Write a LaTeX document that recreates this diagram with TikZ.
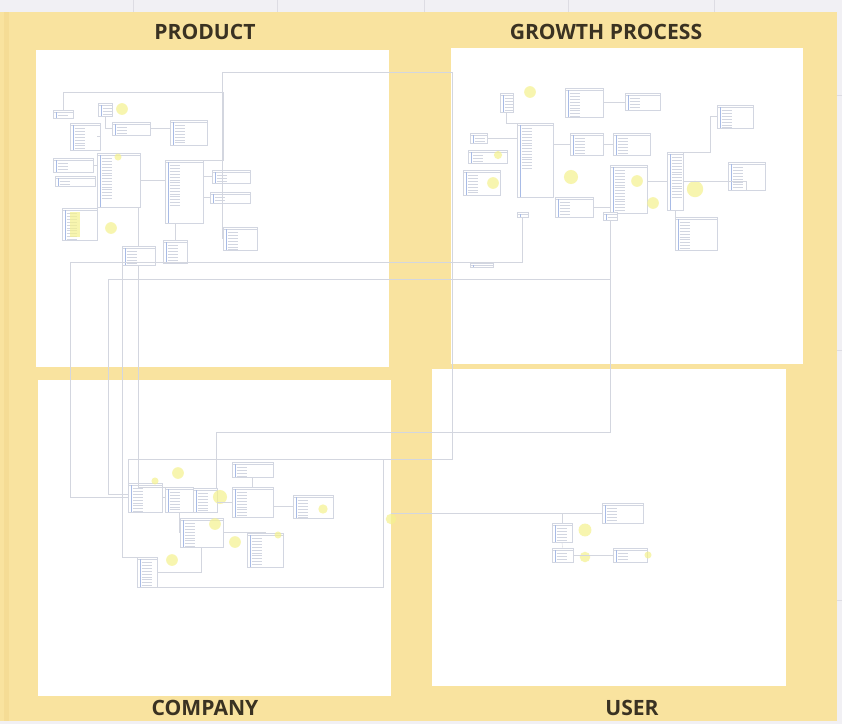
\documentclass[tikz,border=0pt]{standalone}
\usepackage{fontspec}
\setmainfont{Open Sans}
\usetikzlibrary{fit}

\definecolor{sheet}{HTML}{F1F0F4}
\definecolor{gridln}{HTML}{DDDCE3}
\definecolor{board}{HTML}{F9E39F}
\definecolor{boardedge}{HTML}{F5DC95}
\definecolor{title}{HTML}{3A3222}
\definecolor{tblline}{HTML}{D2D6E1}
\definecolor{rowblue}{HTML}{A8BBE6}
\definecolor{mark}{HTML}{F5F28E}
\definecolor{wireln}{HTML}{D3D6DF}

\tikzset{
  panel/.style={fill=white, draw=none},
  heading/.style={font=\fontsize{18}{20}\selectfont\bfseries, text=title},
  tbl/.style={draw=tblline, line width=0.3pt, fill=white, inner sep=0pt,
    path picture={
      \draw[tblline, line width=0.3pt]
        ([yshift=-2pt]path picture bounding box.north west) -- ([yshift=-2pt]path picture bounding box.north east);
      \draw[rowblue, line width=0.35pt]
        ([xshift=2.5pt,yshift=-2pt]path picture bounding box.north west) -- ([xshift=2.5pt]path picture bounding box.south west);
      \foreach \k in {2,...,16}
        \draw[tblline, line width=0.25pt]
          ([xshift=4pt,yshift=-\k*2.4pt]path picture bounding box.north west) -- ++(9pt,0);
    }},
  hl/.style={circle, fill=mark, opacity=0.7, inner sep=0pt, minimum size=#1},
  hl/.default=10pt,
  hlbar/.style={fill=mark, opacity=0.7, inner sep=0pt},
  wire/.style={draw=wireln, line width=0.3pt},
}

\begin{document}
\begin{tikzpicture}[x=0.03cm, y=-0.03cm]
  \useasboundingbox (0,0) rectangle (842,724);

  % sheet behind the board
  \fill[sheet] (0,0) rectangle (842,724);
  \foreach \gx in {133,277,424,568,714}
    \draw[gridln, line width=0.4pt] (\gx,0) -- (\gx,12);
  \foreach \gy in {95,350,600}
    \draw[gridln, line width=0.4pt] (837,\gy) -- (842,\gy);

  % board and the four areas
  \fill[board] (0,12) rectangle (837,721);
  \fill[boardedge] (4,12) rectangle (9,721);
  \fill[panel] (36,50) rectangle (389,367);
  \fill[panel] (451,48) rectangle (803,364);
  \fill[panel] (38,380) rectangle (391,696);
  \fill[panel] (432,369) rectangle (786,686);

  \node[heading] (hProduct) at (205,32)  {PRODUCT};
  \node[heading] (hGrowth)  at (606,32)  {GROWTH PROCESS};
  \node[heading] (hCompany) at (205,708) {COMPANY};
  \node[heading] (hUser)    at (632,708) {USER};

  % product tables
  \node[tbl, fit={(53,110) (73,118)}]   (pr1) {};
  \node[tbl, fit={(98,103) (112,116)}]  (pr2) {};
  \node[tbl, fit={(70,123) (100,150)}]  (pr3) {};
  \node[tbl, fit={(112,122) (150,135)}] (pr4) {};
  \node[tbl, fit={(170,120) (207,145)}] (pr5) {};
  \node[tbl, fit={(53,158) (93,172)}]   (pr6) {};
  \node[tbl, fit={(55,176) (95,186)}]   (pr7) {};
  \node[tbl, fit={(97,153) (140,207)}]  (pr8) {};
  \node[tbl, fit={(165,160) (203,223)}] (pr9) {};
  \node[tbl, fit={(212,170) (250,183)}] (pr10) {};
  \node[tbl, fit={(210,192) (250,203)}] (pr11) {};
  \node[tbl, fit={(62,208) (97,240)}]   (pr12) {};
  \node[tbl, fit={(223,227) (257,250)}] (pr13) {};
  \node[tbl, fit={(122,246) (155,265)}] (pr14) {};
  \node[tbl, fit={(163,240) (187,263)}] (pr15) {};
  \node[hl] (prm1) at (122,109) {};
  \node[hl=6pt] (prm2) at (118,157) {};
  \node[hlbar, fit={(70,212) (80,237)}] (prm3) {};
  \node[hl] (prm4) at (111,228) {};

  % growth process tables
  \node[tbl, fit={(500,93) (513,112)}]  (gp1) {};
  \node[tbl, fit={(565,88) (603,117)}]  (gp2) {};
  \node[tbl, fit={(625,93) (660,110)}]  (gp3) {};
  \node[tbl, fit={(717,105) (753,128)}] (gp4) {};
  \node[tbl, fit={(470,133) (487,143)}] (gp5) {};
  \node[tbl, fit={(468,150) (507,163)}] (gp6) {};
  \node[tbl, fit={(463,170) (500,195)}] (gp7) {};
  \node[tbl, fit={(517,123) (553,197)}] (gp8) {};
  \node[tbl, fit={(570,133) (603,155)}] (gp9) {};
  \node[tbl, fit={(613,133) (650,155)}] (gp10) {};
  \node[tbl, fit={(610,165) (647,213)}] (gp11) {};
  \node[tbl, fit={(667,152) (683,210)}] (gp12) {};
  \node[tbl, fit={(728,162) (765,190)}] (gp13) {};
  \node[tbl, fit={(555,197) (593,217)}] (gp14) {};
  \node[tbl, fit={(517,212) (528,217)}] (gp15) {};
  \node[tbl, fit={(603,212) (617,220)}] (gp16) {};
  \node[tbl, fit={(675,217) (717,250)}] (gp17) {};
  \node[tbl, fit={(470,263) (493,267)}] (gp18) {};
  \node[hl] (gpm1) at (530,92) {};
  \node[hl=7pt] (gpm2) at (498,155) {};
  \node[hl] (gpm3) at (493,183) {};
  \node[hl=12pt] (gpm4) at (571,177) {};
  \node[hl] (gpm5) at (637,181) {};
  \node[hl] (gpm6) at (653,203) {};
  \node[hl=14pt] (gpm7) at (695,189) {};

  % company tables
  \node[tbl, fit={(128,483) (162,512)}] (cp1) {};
  \node[tbl, fit={(165,487) (193,512)}] (cp2) {};
  \node[tbl, fit={(193,488) (217,512)}] (cp3) {};
  \node[tbl, fit={(232,487) (273,517)}] (cp4) {};
  \node[tbl, fit={(293,495) (333,518)}] (cp5) {};
  \node[tbl, fit={(180,518) (223,547)}] (cp6) {};
  \node[tbl, fit={(247,533) (283,567)}] (cp7) {};
  \node[tbl, fit={(137,557) (157,587)}] (cp8) {};
  \node[tbl, fit={(232,462) (273,477)}] (cp9) {};
  \node[hl=6pt] (cpm1) at (155,481) {};
  \node[hl] (cpm2) at (178,473) {};
  \node[hl=12pt] (cpm3) at (220,497) {};
  \node[hl=8pt] (cpm4) at (323,509) {};
  \node[hl] (cpm5) at (215,524) {};
  \node[hl=6pt] (cpm6) at (278,535) {};
  \node[hl] (cpm7) at (235,542) {};
  \node[hl] (cpm8) at (172,560) {};
  \node[hl=9pt] (cpm9) at (391,519) {};

  % user tables
  \node[tbl, fit={(602,503) (643,523)}] (us1) {};
  \node[tbl, fit={(552,523) (572,542)}] (us2) {};
  \node[tbl, fit={(552,548) (573,562)}] (us3) {};
  \node[tbl, fit={(613,548) (647,562)}] (us4) {};
  \node[hl=11pt] (usm1) at (585,530) {};
  \node[hl=9pt] (usm2) at (585,557) {};
  \node[hl=6pt] (usm3) at (648,555) {};

  % free ends of the long links
  \coordinate (k1) at (452,72);
  \coordinate (k2) at (223,92);
  \coordinate (d1) at (70,262);
  \coordinate (d3) at (108,279);
  \coordinate (q1) at (383,459);
  \coordinate (q2) at (383,587);
  \coordinate (u1) at (216,432);

  % links inside product
  \draw[wire] (pr13.west) -- ++(-1,0) |- (k1) -- (k1 |- q1) -| (cp1.north west);
  \draw[wire] (pr1.north) |- (k2) |- (pr9.north);
  \draw[wire] (pr3.east) -- (pr3.east -| pr8.west);
  \draw[wire] (pr8.east) -- (pr8.east -| pr9.west);
  \draw[wire] (pr9.east |- pr10.west) -- (pr10.west);
  \draw[wire] (pr9.east |- pr11.west) -- (pr11.west);
  \draw[wire] (pr6.east) -- (pr6.east -| pr8.west);
  \draw[wire] (pr2.south) |- (pr4.west);
  \draw[wire] (pr4.east) -- (pr4.east -| pr5.west);
  \draw[wire] (pr15.north) -- (pr15.north |- pr9.south);
  \draw[wire] (pr14.north) |- (pr8.south);

  % links inside growth process
  \draw[wire] (gp12.north east) -- ++(27,0) |- (gp4.west);
  \draw[wire] (gp11.east |- gp12.west) -- (gp12.west);
  \draw[wire] (gp8.east |- gp9.west) -- (gp9.west);
  \draw[wire] (gp9.east) -- (gp10.west);
  \draw[wire] (gp5.east) -| (gp8.north west);
  \draw[wire] (gp1.south) |- (gp8.north);
  \draw[wire] (gp2.east) -- (gp2.east -| gp3.west);
  \draw[wire] (gp12.south) |- (gp17.west);
  \draw[wire] (gp12.east) -| (gp13.south);
  \draw[wire] (gp14.east) -| (gp16.north);

  % links running between the areas
  \draw[wire] (gp15.south) |- (d1) |- (cp1.west);
  \draw[wire] (gp16.south) |- (d3) |- (cp1.170);
  \draw[wire] (gp16.south) |- (u1) -- (u1 |- cp3.north);
  \draw[wire] (pr14.south west) |- (cp8.north);
  \draw[wire] (pr14.south) |- (cp2.north);
  \draw[wire] (cpm9) |- (us1.west);

  % links inside company
  \draw[wire] (cp8.south) |- (q2) -- (q1);
  \draw[wire] (cp1.east) -- (cp1.east -| cp2.west);
  \draw[wire] (cp2.east |- cp3.west) -- (cp3.west);
  \draw[wire] (cp3.east |- cp4.west) -- (cp4.west);
  \draw[wire] (cp4.east |- cp5.west) -- (cp5.west);
  \draw[wire] (cp2.south) |- (cp6.west);
  \draw[wire] (cp6.east) -| (cp7.north);
  \draw[wire] (cp9.south) -- (cp9.south |- cp4.north);
  \draw[wire] (cp8.east) -| (cp6.south);

  % links inside user
  \draw[wire] (us2.north) |- (us1.west);
  \draw[wire] (us3.east) -- (us3.east -| us4.west);
  \draw[wire] (us2.south) -- (us3.north);
\end{tikzpicture}
\end{document}
